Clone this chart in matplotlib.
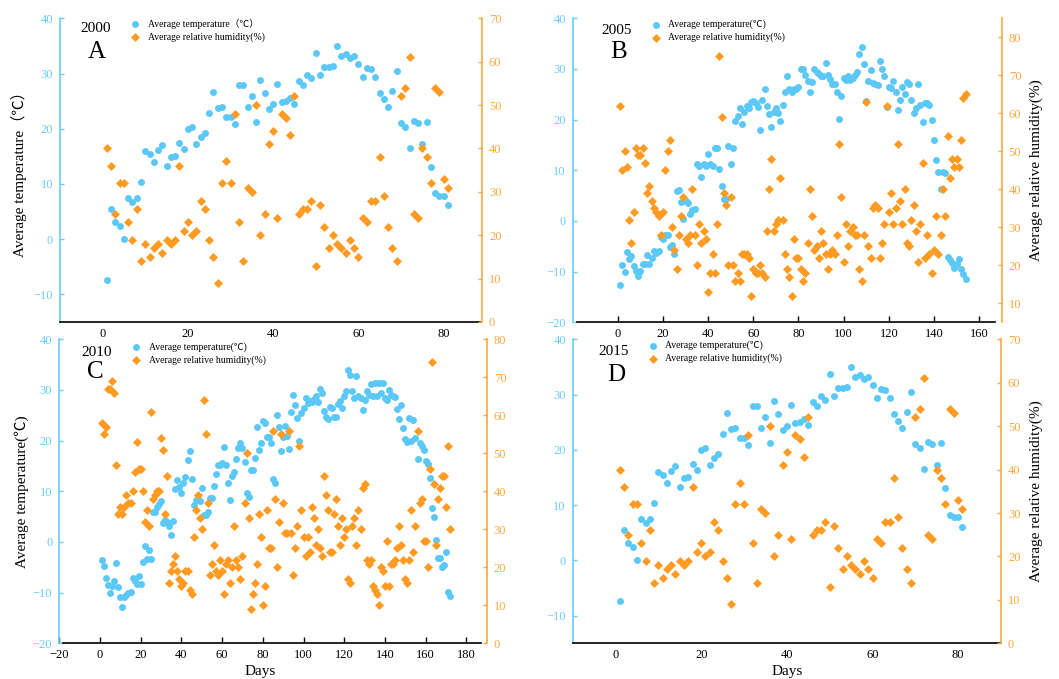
import matplotlib
matplotlib.use('Agg')
import matplotlib.pyplot as plt

# daily means (day 1 .. N)
temp_2000 = [-7.4, 5.5, 3.2, 2.4, 0.0, 7.4, 6.7, 7.5, 10.3, 16.0,
             15.5, 14.0, 16.2, 17.1, 13.2, 14.9, 15.1, 17.5, 16.4, 19.9,
             20.3, 17.3, 18.5, 19.3, 22.9, 26.7, 23.8, 23.9, 22.2, 22.2,
             20.8, 27.9, 27.9, 23.9, 25.9, 21.3, 28.9, 26.5, 23.6, 24.4,
             28.1, 24.8, 25.1, 25.5, 24.5, 28.6, 28.0, 29.7, 29.1, 33.8,
             29.8, 31.2, 31.1, 31.4, 34.9, 33.2, 33.5, 32.9, 33.2, 31.8,
             29.4, 31.0, 30.8, 29.4, 26.5, 25.3, 23.9, 26.8, 30.5, 21.0,
             20.3, 16.5, 21.4, 21.0, 17.3, 21.2, 13.1, 8.3, 7.8, 7.9,
             6.1]
hum_2000 = [40, 36, 25, 32, 32, 23, 19, 26, 14, 18,
            15, 17, 18, 16, 19, 18, 19, 36, 21, 23,
            20, 21, 28, 26, 19, 15, 9, 32, 37, 32,
            48, 23, 14, 31, 30, 50, 20, 25, 41, 44,
            24, 48, 47, 43, 52, 25, 26, 26, 28, 13,
            27, 22, 17, 20, 18, 17, 16, 19, 17, 15,
            24, 23, 28, 28, 38, 29, 22, 17, 14, 52,
            54, 61, 25, 24, 40, 38, 32, 54, 53, 33,
            31]

temp_2005 = [-12.7, -8.6, -10.1, -6.1, -7.6, -6.9, -8.8, -9.8, -10.9, -9.8,
             -8.4, -8.4, -6.8, -8.4, -7.4, -5.9, -6.4, -5.9, -3.1, -3.6,
             -2.8, -2.8, -5.2, -4.7, -6.6, 5.9, 6.1, 3.7, 0.4, 4.0,
             3.6, 1.4, 2.2, 2.4, 11.2, 10.9, 8.6, 11.2, 10.9, 13.2,
             11.2, 10.9, 14.5, 14.4, 10.3, 7.0, 4.3, 4.3, 14.8, 11.2,
             14.5, 19.7, 20.8, 22.2, 19.1, 21.6, 22.7, 22.2, 23.4, 23.6,
             23.2, 22.4, 18.0, 23.8, 26.1, 22.6, 21.2, 18.5, 21.5, 22.2,
             21.4, 19.8, 22.8, 25.5, 28.6, 26.0, 25.5, 26.0, 26.1, 26.4,
             29.9, 29.9, 28.8, 27.6, 25.5, 27.4, 29.9, 29.4, 29.0, 28.6,
             28.6, 31.1, 28.9, 28.0, 27.1, 27.1, 25.5, 20.2, 24.7, 28.2,
             27.8, 28.6, 27.8, 28.2, 28.8, 29.5, 32.9, 34.4, 30.9, 23.6,
             27.6, 29.8, 27.2, 27.0, 26.9, 31.6, 30.0, 28.6, 22.4, 26.5,
             26.3, 27.6, 25.5, 21.9, 23.8, 26.4, 25.0, 27.4, 27.1, 23.8,
             21.3, 22.3, 27.1, 22.8, 19.5, 23.2, 23.2, 22.8, 19.9, 16.0,
             12.0, 9.7, 6.3, 9.7, 9.5, -7.2, -7.8, -8.2, -9.2, -8.4,
             -7.6, -9.4, -10.5, -11.4]
hum_2005 = [62, 45, 50, 46, 32, 26, 34, 51, 49, 49,
            51, 47, 39, 41, 37, 35, 34, 33, 28, 34,
            45, 50, 53, 30, 24, 19, 28, 33, 38, 27,
            26, 28, 40, 28, 20, 31, 26, 29, 27, 13,
            18, 23, 18, 31, 75, 59, 39, 36, 20, 38,
            20, 16, 18, 16, 23, 23, 23, 22, 12, 19,
            18, 18, 20, 18, 17, 29, 40, 48, 29, 31,
            32, 43, 32, 23, 19, 17, 12, 27, 22, 22,
            19, 16, 18, 26, 40, 33, 24, 25, 22, 29,
            26, 23, 19, 23, 24, 23, 28, 52, 38, 21,
            31, 25, 29, 30, 28, 28, 19, 16, 28, 63,
            25, 22, 35, 36, 35, 22, 26, 31, 62, 34,
            39, 31, 35, 52, 37, 31, 40, 26, 25, 32,
            36, 29, 21, 31, 47, 22, 28, 23, 18, 24,
            33, 23, 28, 40, 33, 54, 43, 48, 46, 48,
            46, 53, 64, 65]

temp_2010 = [-3.6, -4.7, -7.1, -8.4, -10.0, -8.7, -7.8, -4.1, -8.9, -10.8,
             -12.9, -10.8, -10.5, -10.1, -9.8, -7.2, -7.8, -8.2, -6.7, -8.2,
             -3.9, -0.7, -3.3, -1.6, -3.3, 6.0, 6.0, 7.0, 7.5, 8.0,
             3.7, 4.3, 3.9, 3.2, 1.4, 4.2, 10.4, 12.2, 10.8, 9.7,
             11.7, 12.9, 16.1, 18.0, 12.4, 7.3, 8.3, 8.4, 8.0, 10.7,
             5.3, 5.3, 5.9, 8.6, 8.6, 11.1, 13.4, 15.2, 15.2, 15.5,
             18.7, 15.2, 11.7, 8.2, 13.1, 13.9, 16.4, 18.6, 19.6, 18.5,
             15.8, 9.6, 8.8, 14.2, 14.2, 16.6, 22.6, 18.2, 19.5, 23.8,
             23.4, 20.8, 20.8, 19.5, 12.4, 11.7, 25.1, 22.6, 18.0, 20.8,
             22.8, 20.9, 18.3, 25.7, 29.0, 27.0, 24.5, 20.0, 25.5, 26.4,
             28.4, 27.4, 27.9, 27.7, 28.2, 28.8, 27.7, 30.2, 29.5, 25.9,
             24.7, 24.2, 26.6, 26.4, 24.6, 24.7, 27.2, 27.8, 26.5, 28.9,
             29.7, 34.0, 33.0, 29.7, 28.4, 32.7, 28.8, 28.4, 26.1, 28.1,
             29.7, 29.1, 31.2, 28.9, 31.4, 28.9, 31.4, 29.5, 31.4, 28.4,
             28.1, 30.0, 29.1, 28.8, 28.6, 26.3, 24.3, 27.0, 22.4, 20.3,
             19.7, 24.4, 20.0, 24.0, 20.5, 16.4, 19.5, 19.0, 18.2, 15.9,
             15.3, 12.6, 6.8, 4.9, 0.3, -3.1, -3.1, -4.9, -4.5, -2.0,
             -9.9, -10.6]
hum_2010 = [58, 55, 57, 67, 67, 69, 66, 47, 34, 36,
            34, 36, 39, 37, 37, 40, 45, 53, 46, 46,
            40, 32, 35, 31, 61, 38, 39, 40, 40, 54,
            51, 34, 44, 16, 19, 21, 23, 19, 17, 15,
            16, 19, 19, 14, 13, 28, 35, 39, 33, 30,
            64, 55, 37, 18, 21, 26, 19, 18, 22, 19,
            13, 21, 22, 16, 20, 31, 22, 20, 17, 23,
            37, 50, 33, 9, 13, 16, 21, 34, 28, 10,
            15, 35, 25, 25, 56, 38, 20, 32, 55, 37,
            29, 29, 56, 29, 18, 25, 31, 52, 35, 28,
            23, 28, 24, 36, 33, 26, 30, 25, 23, 44,
            39, 35, 24, 24, 34, 38, 31, 26, 33, 28,
            30, 17, 16, 31, 33, 26, 35, 30, 41, 42,
            22, 21, 22, 15, 14, 13, 10, 20, 19, 15,
            27, 15, 21, 21, 22, 25, 31, 26, 22, 17,
            16, 22, 35, 24, 31, 56, 37, 38, 27, 27,
            20, 46, 74, 42, 26, 38, 41, 44, 44, 36,
            52, 30]

# the 2015 panel shows the same values as 2000
temp_2015 = list(temp_2000)
hum_2015 = list(hum_2000)

W, H = 1059, 679
BLUE = '#5CC8F8'
ORANGE = '#FF9A22'
BLUE_AX = '#6ACCF8'
ORANGE_AX = '#FFA83F'

plt.rcParams['font.family'] = ['Liberation Serif', 'Noto Sans CJK SC', 'DejaVu Sans']

fig = plt.figure(figsize=(W / 100, H / 100), dpi=100)


def px_rect(l, t, r, b):
    return [l / W, 1 - b / H, (r - l) / W, (b - t) / H]


def draw_panel(rect, temp, hum, xlim, xticks, xbounds, xtick_len, tlim, tticks,
               hlim, hticks, leg_temp, leg_anchor, year, letter, year_xy, letter_xy,
               ylabel=None, ylabel_x=None, rlabel=None, xlabel=None, xlabel_x=0.5):
    days = list(range(1, len(temp) + 1))
    ax = fig.add_axes(px_rect(*rect))
    ax2 = ax.twinx()

    h1 = ax.scatter(days, temp, s=25, marker='o', color=BLUE, linewidths=0, zorder=3)
    h2 = ax2.scatter(days, hum, s=21, marker='D', color=ORANGE, linewidths=0, zorder=3)

    ax.set_xlim(*xlim)
    ax.set_xticks(xticks)
    ax.set_ylim(*tlim)
    ax.set_yticks(tticks)
    ax2.set_ylim(*hlim)
    ax2.set_yticks(hticks)

    for a in (ax, ax2):
        a.spines['top'].set_visible(False)
    ax.spines['right'].set_visible(False)
    ax2.spines['left'].set_visible(False)
    ax2.spines['bottom'].set_visible(False)
    ax.spines['left'].set_color(BLUE_AX)
    ax.spines['left'].set_linewidth(1.2)
    ax2.spines['right'].set_color(ORANGE_AX)
    ax2.spines['right'].set_linewidth(1.2)
    ax.spines['bottom'].set_linewidth(1.2)
    ax.spines['bottom'].set_bounds(*xbounds)

    ax.tick_params(axis='y', direction='in', length=3, width=1, color=BLUE_AX,
                   labelcolor=BLUE_AX, labelsize=9, pad=5)
    ax2.tick_params(axis='y', direction='in', length=3, width=1, color=ORANGE_AX,
                    labelcolor=ORANGE_AX, labelsize=9, pad=5)
    ax.tick_params(axis='x', direction='in', length=xtick_len, width=1,
                   labelsize=9, pad=4)

    if ylabel:
        ax.set_ylabel(ylabel, fontsize=11)
        ax.yaxis.set_label_coords(ylabel_x, 0.5)
    if rlabel:
        ax2.set_ylabel(rlabel, fontsize=11)
        ax2.yaxis.set_label_coords(1.066, 0.5)
    if xlabel:
        ax.set_xlabel(xlabel, fontsize=11)
        ax.xaxis.set_label_coords(xlabel_x, -0.07)

    ax2.legend([h1, h2], [leg_temp, 'Average relative humidity(%)'],
               loc='upper left', bbox_to_anchor=leg_anchor, frameon=False,
               fontsize=7, handlelength=1.0, handletextpad=0.8, labelspacing=0.35,
               borderpad=0, borderaxespad=0, scatterpoints=1)

    fig.text(year_xy[0] / W, 1 - year_xy[1] / H, year, fontsize=11,
             ha='center', va='center')
    fig.text(letter_xy[0] / W, 1 - letter_xy[1] / H, letter, fontsize=18,
             ha='center', va='center')


draw_panel((60, 18.3, 482, 322), temp_2000, hum_2000,
           xlim=(-10, 89), xticks=[0, 20, 40, 60, 80], xbounds=(-10, 88.5), xtick_len=0,
           tlim=(-15, 40), tticks=[-10, 0, 10, 20, 30, 40],
           hlim=(0, 70), hticks=[0, 10, 20, 30, 40, 50, 60, 70],
           leg_temp='Average temperature（℃）', leg_anchor=(0.166, 1.0),
           year='2000', letter='A', year_xy=(96, 28.5), letter_xy=(96.7, 52),
           ylabel='Average temperature（℃）', ylabel_x=-0.078)

draw_panel((572.7, 18.3, 1001.7, 322.3), temp_2005, hum_2005,
           xlim=(-20, 170), xticks=[0, 20, 40, 60, 80, 100, 120, 140, 160],
           xbounds=(-18, 167), xtick_len=4,
           tlim=(-20, 40), tticks=[-20, -10, 0, 10, 20, 30, 40],
           hlim=(5, 85), hticks=[10, 20, 30, 40, 50, 60, 70, 80],
           leg_temp='Average temperature(℃)', leg_anchor=(0.182, 0.995),
           year='2005', letter='B', year_xy=(616.7, 30.5), letter_xy=(619, 51.7),
           rlabel='Average relative humidity(%)')

draw_panel((59.3, 339.3, 486.7, 643.3), temp_2010, hum_2010,
           xlim=(-20, 190), xticks=[-20, 0, 20, 40, 60, 80, 100, 120, 140, 160, 180],
           xbounds=(-18, 187), xtick_len=4,
           tlim=(-20, 40), tticks=[-20, -10, 0, 10, 20, 30, 40],
           hlim=(0, 80), hticks=[0, 10, 20, 30, 40, 50, 60, 70, 80],
           leg_temp='Average temperature(℃)', leg_anchor=(0.168, 0.99),
           year='2010', letter='C', year_xy=(97, 352), letter_xy=(95, 371.7),
           ylabel='Average temperature(℃)', ylabel_x=-0.071,
           xlabel='Days', xlabel_x=0.47)

draw_panel((572.7, 339.3, 1001, 643.3), temp_2015, hum_2015,
           xlim=(-10, 90), xticks=[0, 20, 40, 60, 80], xbounds=(-10, 90), xtick_len=0,
           tlim=(-15, 40), tticks=[-10, 0, 10, 20, 30, 40],
           hlim=(0, 70), hticks=[0, 10, 20, 30, 40, 50, 60, 70],
           leg_temp='Average temperature(℃)', leg_anchor=(0.175, 0.995),
           year='2015', letter='D', year_xy=(614, 351), letter_xy=(616, 375),
           rlabel='Average relative humidity(%)', xlabel='Days', xlabel_x=0.5)

fig.savefig('out.png', dpi=100)
